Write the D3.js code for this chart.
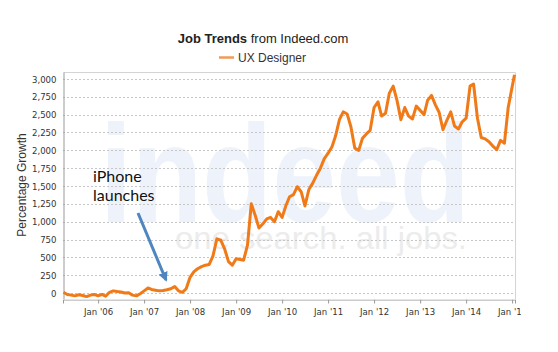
<!DOCTYPE html>
<html>
<head>
<meta charset="utf-8">
<script src="https://cdn.jsdelivr.net/npm/d3@7"></script>
<style>
  body { margin: 0; background: #fff; }
  svg { display: block; }
  .tick-label { font-family: "DejaVu Sans Condensed", "DejaVu Sans", sans-serif; font-size: 9.5px; fill: #333; }
</style>
</head>
<body>
<svg id="chart" width="558" height="352"></svg>
<script>
const width = 558;
const height = 352;

// monthly readings of the "UX Designer" trend, % growth
const months = [
  "2005-04","2005-05","2005-06","2005-07","2005-08","2005-09","2005-10","2005-11","2005-12",
  "2006-01","2006-02","2006-03","2006-04","2006-05","2006-06","2006-07","2006-08","2006-09","2006-10","2006-11","2006-12",
  "2007-01","2007-02","2007-03","2007-04","2007-05","2007-06","2007-07","2007-08","2007-09","2007-10","2007-11","2007-12",
  "2008-01","2008-02","2008-03","2008-04","2008-05","2008-06","2008-07","2008-08","2008-09","2008-10","2008-11","2008-12",
  "2009-01","2009-02","2009-03","2009-04","2009-05","2009-06","2009-07","2009-08","2009-09","2009-10","2009-11","2009-12",
  "2010-01","2010-02","2010-03","2010-04","2010-05","2010-06","2010-07","2010-08","2010-09","2010-10","2010-11","2010-12",
  "2011-01","2011-02","2011-03","2011-04","2011-05","2011-06","2011-07","2011-08","2011-09","2011-10","2011-11","2011-12",
  "2012-01","2012-02","2012-03","2012-04","2012-05","2012-06","2012-07","2012-08","2012-09","2012-10","2012-11","2012-12",
  "2013-01","2013-02","2013-03","2013-04","2013-05","2013-06","2013-07","2013-08","2013-09","2013-10","2013-11","2013-12",
  "2014-01","2014-02","2014-03","2014-04","2014-05","2014-06","2014-07","2014-08","2014-09","2014-10","2014-11","2014-12",
  "2015-01"
];
const uxDesigner = [
  10,-20,-30,-40,-25,-35,-50,-30,-20,
  -40,-20,-45,10,30,20,15,0,5,-30,-40,-10,
  30,70,50,40,30,35,45,60,90,30,10,60,
  220,300,340,370,390,400,520,760,740,620,440,390,
  480,470,460,670,1250,1090,910,970,1040,1060,1000,1140,
  1060,1230,1350,1380,1490,1420,1220,1450,1540,1650,1750,1880,
  1960,2050,2200,2430,2540,2510,2330,2030,2000,2170,2230,2280,
  2600,2680,2480,2520,2800,2900,2700,2430,2600,2480,2440,2620,
  2560,2500,2700,2770,2640,2530,2290,2420,2540,2340,2300,2400,
  2450,2900,2930,2450,2180,2160,2120,2060,2010,2140,2100,2600,
  3060
];
const yTicks = [0,250,500,750,1000,1250,1500,1750,2000,2250,2500,2750,3000];
const xTicks = ["2006-01","2007-01","2008-01","2009-01","2010-01","2011-01","2012-01","2013-01","2014-01","2015-01"];
const seriesName = "UX Designer";

const plot = { left: 63, right: 515, top: 72, bottom: 299 };
const parse = d3.timeParse("%Y-%m");
const data = months.map((m, i) => ({ date: parse(m), value: uxDesigner[i] }));
// last reading sits a bit into January on the original
data[data.length - 1].date = new Date(2015, 0, 20);

const x = d3.scaleTime()
  .domain([new Date(2005, 2, 28), new Date(2015, 0, 24)])
  .range([plot.left, plot.right]);
const y = d3.scaleLinear()
  .domain([-84, 3098])
  .range([plot.bottom, plot.top]);

const svg = d3.select("#chart");

// watermark
const wm = svg.append("g");
wm.append("text")
  .attr("x", 100).attr("y", 222)
  .attr("textLength", 370).attr("lengthAdjust", "spacingAndGlyphs")
  .attr("font-family", "Liberation Sans, Arial, sans-serif")
  .attr("font-weight", "bold").attr("font-size", 140)
  .attr("fill", "#eef3fb")
  .text("indeed");
wm.append("text")
  .attr("x", 175).attr("y", 249)
  .attr("textLength", 292).attr("lengthAdjust", "spacingAndGlyphs")
  .attr("font-family", "Liberation Sans, Arial, sans-serif")
  .attr("font-size", 31)
  .attr("fill", "#ececec")
  .text("one search. all jobs.");

// grid
svg.append("g")
  .selectAll("line")
  .data(yTicks)
  .join("line")
  .attr("x1", plot.left).attr("x2", plot.right)
  .attr("y1", d => Math.round(y(d)) + 0.5).attr("y2", d => Math.round(y(d)) + 0.5)
  .attr("stroke", "#c6c6c6")
  .attr("stroke-dasharray", "2,2");

// frame
svg.append("path")
  .attr("d", `M${plot.left + 0.5},${plot.top + 0.5}H${plot.right + 0.5}V${plot.bottom + 0.5}`)
  .attr("fill", "none").attr("stroke", "#d4d4d4");

// y axis
const yAxis = svg.append("g")
  .attr("transform", `translate(${plot.left + 0.5},0)`)
  .call(d3.axisLeft(y).tickValues(yTicks).tickSize(0).tickPadding(7).tickFormat(d3.format(",")));
yAxis.select(".domain").attr("stroke", "#999");
yAxis.selectAll("text").attr("class", "tick-label");

// x axis, clipped at the right like the original
svg.append("clipPath").attr("id", "xclip")
  .append("rect").attr("x", 0).attr("y", 0).attr("width", 521).attr("height", height);
const xAxis = svg.append("g")
  .attr("clip-path", "url(#xclip)")
  .attr("transform", `translate(0,${plot.bottom + 0.5})`)
  .call(d3.axisBottom(x).tickValues(xTicks.map(parse)).tickSize(4).tickPadding(5).tickFormat(d3.timeFormat("Jan '%y")));
xAxis.select(".domain").attr("stroke", "#999");
xAxis.selectAll(".tick line").attr("stroke", "#999");
xAxis.selectAll("text").attr("class", "tick-label");

// series
svg.append("path")
  .datum(data)
  .attr("fill", "none")
  .attr("stroke", "#f07a17")
  .attr("stroke-width", 3)
  .attr("stroke-linejoin", "round")
  .attr("d", d3.line().x(d => x(d.date)).y(d => y(d.value)));

// title + legend
const title = svg.append("text")
  .attr("x", 263).attr("y", 43)
  .attr("text-anchor", "middle")
  .attr("font-family", "Liberation Sans, Arial, sans-serif")
  .attr("font-size", 13)
  .attr("fill", "#222");
title.append("tspan").attr("font-weight", "bold").text("Job Trends");
title.append("tspan").text(" from Indeed.com");

svg.append("line")
  .attr("x1", 219).attr("x2", 234).attr("y1", 57.5).attr("y2", 57.5)
  .attr("stroke", "#f29a55").attr("stroke-width", 2.5);
svg.append("text")
  .attr("x", 238).attr("y", 62)
  .attr("font-family", "Liberation Sans, Arial, sans-serif")
  .attr("font-size", 12)
  .attr("fill", "#333")
  .text(seriesName);

// y title
svg.append("text")
  .attr("transform", "translate(26,185) rotate(-90)")
  .attr("text-anchor", "middle")
  .attr("font-family", "Liberation Sans, Arial, sans-serif")
  .attr("font-size", 12)
  .attr("fill", "#333")
  .text("Percentage Growth");

// annotation
const note = svg.append("text")
  .attr("font-family", "Lato, Liberation Sans, sans-serif")
  .attr("font-size", 16)
  .attr("fill", "#111");
note.append("tspan").attr("x", 93).attr("y", 182).text("iPhone");
note.append("tspan").attr("x", 93).attr("y", 201).text("launches");

svg.append("defs").append("marker")
  .attr("id", "arrowhead")
  .attr("viewBox", "0 0 10 10")
  .attr("refX", 8).attr("refY", 5)
  .attr("markerWidth", 3.2).attr("markerHeight", 3.2)
  .attr("orient", "auto")
  .append("path").attr("d", "M0,0L10,5L0,10z").attr("fill", "#4f86c0");
svg.append("line")
  .attr("x1", 138).attr("y1", 213)
  .attr("x2", 166).attr("y2", 280)
  .attr("stroke", "#4f86c0").attr("stroke-width", 3)
  .attr("marker-end", "url(#arrowhead)");
</script>
</body>
</html>
